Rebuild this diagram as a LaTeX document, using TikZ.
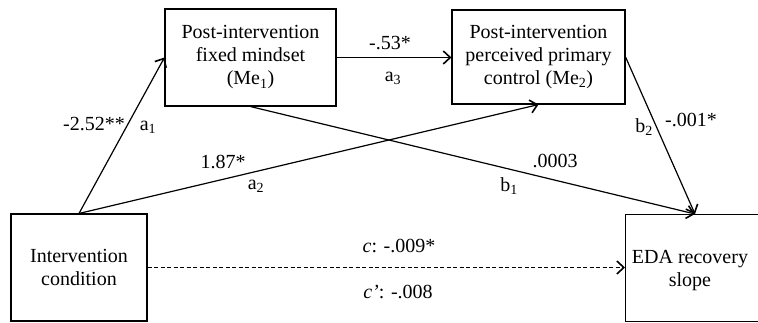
\documentclass[tikz,border=0pt]{standalone}
\usepackage{fontspec}
\setmainfont{Liberation Serif}
\usetikzlibrary{arrows.meta}
\begin{document}
\begin{tikzpicture}[x=1pt,y=-1pt,
  every node/.style={font=\fontsize{20}{23}\selectfont},
  box/.style={draw, line width=1.1pt, inner sep=0pt, align=center},
  lbl/.style={inner sep=0pt},
  arr/.style={line width=1.2pt, -{Straight Barb[length=7pt,width=13pt,line width=1.6pt]}}]
\useasboundingbox (0,0) rectangle (758,322);
\node[box, minimum width=171pt, minimum height=97pt] (me1) at (250.5,57.5) {Post-intervention\\fixed mindset\\(Me\textsubscript{1})};
\node[box, minimum width=173pt, minimum height=94pt] (me2) at (538.5,57) {Post-intervention\\perceived primary\\control (Me\textsubscript{2})};
\node[box, minimum width=136pt, minimum height=107pt] (ic) at (79,267.5) {Intervention\\condition};
\node[box, minimum width=145pt, minimum height=107pt, anchor=north west] (eda) at (625,214) {};
\node[lbl, align=center] (edat) at (690,271) {EDA recovery\\slope};
\coordinate (edain) at (695,214);
\draw[arr] (ic.north) -- (me1.west);
\draw[arr] (ic.north) -- (me2.south);
\draw[arr] (me1.east) -- (me1.east -| me2.west);
\draw[arr] (me1.south) -- (edain);
\draw[arr] (me2.east) -- (edain);
\draw[arr, dash pattern=on 4pt off 2.5pt] (ic.east) -- (ic.east -| eda.west);
\node[lbl] (la1) at (94,124) {-2.52**};
\node[lbl] (sa1) at (148,127) {a\textsubscript{1}};
\node[lbl] (la2) at (223,162) {1.87*};
\node[lbl] (sa2) at (256,186) {a\textsubscript{2}};
\node[lbl] (la3) at (390,43) {-.53*};
\node[lbl] (sa3) at (393,78) {a\textsubscript{3}};
\node[lbl] (lb1) at (555,161) {.0003};
\node[lbl] (sb1) at (509,186) {b\textsubscript{1}};
\node[lbl] (lb2) at (691,120) {-.001*};
\node[lbl] (sb2) at (644,127) {b\textsubscript{2}};
\node[lbl] (lc) at (399,246) {\textit{c}: -.009*};
\node[lbl] (lcp) at (398,292) {\textit{c’}: -.008};
\end{tikzpicture}
\end{document}
